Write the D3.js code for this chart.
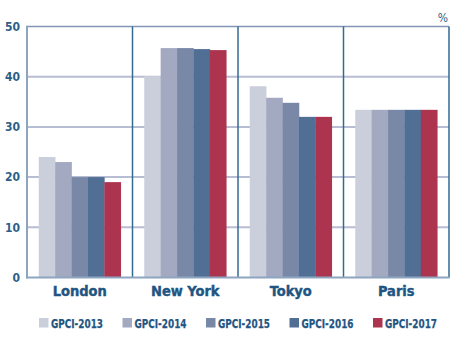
<!DOCTYPE html>
<html>
<head>
<meta charset="utf-8">
<script src="https://cdn.jsdelivr.net/npm/d3@7"></script>
<style>
  html, body { margin: 0; padding: 0; background: #fff; }
  svg { display: block; }
  text { font-family: "DejaVu Sans Condensed", "DejaVu Sans", sans-serif; }
</style>
</head>
<body>
<svg id="chart" width="455" height="343"></svg>
<script>
// City share values (%) by GPCI edition
const cities = ["London", "New York", "Tokyo", "Paris"];
const series = ["GPCI-2013", "GPCI-2014", "GPCI-2015", "GPCI-2016", "GPCI-2017"];
const gpci2013 = [24.0, 40.1, 38.1, 33.4];
const gpci2014 = [23.0, 45.7, 35.8, 33.4];
const gpci2015 = [20.0, 45.7, 34.8, 33.4];
const gpci2016 = [20.0, 45.5, 32.0, 33.4];
const gpci2017 = [19.0, 45.3, 32.0, 33.4];
const yTicks = [0, 10, 20, 30, 40, 50];
const seriesValues = [gpci2013, gpci2014, gpci2015, gpci2016, gpci2017];
const colors = ["#cbcfdc", "#a3a9c1", "#7a88a8", "#516f95", "#ad344e"];

const svg = d3.select("#chart");
const plotLeft = 27, plotRight = 449, plotTop = 26.5, plotBottom = 277.5;

const x0 = d3.scaleBand().domain(cities).range([plotLeft, plotRight]).padding(0);
const bw = x0.bandwidth();
const x1 = d3.scaleBand().domain(series).range([11.75, bw - 11.75]).padding(0);
const y = d3.scaleLinear().domain([0, 50]).range([plotBottom, plotTop]);
const color = d3.scaleOrdinal().domain(series).range(colors);

// horizontal gridlines
svg.append("g").selectAll("line")
  .data(yTicks.filter(t => t > 0 && t < 50))
  .join("line")
  .attr("x1", plotLeft).attr("x2", plotRight)
  .attr("y1", d => y(d)).attr("y2", d => y(d))
  .attr("stroke", "#b7bdd3").attr("stroke-width", 2);

// top frame line
svg.append("line")
  .attr("x1", plotLeft).attr("x2", plotRight)
  .attr("y1", y(50)).attr("y2", y(50))
  .attr("stroke", "#8296b5").attr("stroke-width", 1.5);

// vertical dividers between cities and right border
svg.append("g").selectAll("line")
  .data(cities.slice(1).map(c => x0(c)).concat([plotRight]))
  .join("line")
  .attr("x1", d => d).attr("x2", d => d)
  .attr("y1", plotTop).attr("y2", plotBottom)
  .attr("stroke", "#336a92").attr("stroke-width", 1.5);

// bars
const groups = svg.append("g").selectAll("g")
  .data(cities)
  .join("g")
  .attr("transform", c => `translate(${x0(c)},0)`);

groups.selectAll("rect")
  .data((c, i) => series.map((s, j) => ({ s, v: seriesValues[j][i] })))
  .join("rect")
  .attr("x", d => x1(d.s))
  .attr("width", x1.bandwidth() + 0.3)
  .attr("y", d => y(d.v))
  .attr("height", d => y(0) - y(d.v))
  .attr("fill", d => color(d.s));

// left and bottom axis lines
svg.append("line")
  .attr("x1", plotLeft).attr("x2", plotLeft).attr("y1", plotTop - 0.75).attr("y2", plotBottom + 1)
  .attr("stroke", "#8ea5c0").attr("stroke-width", 2);
svg.append("line")
  .attr("x1", plotLeft - 1).attr("x2", plotRight + 0.75).attr("y1", plotBottom).attr("y2", plotBottom)
  .attr("stroke", "#8ea5c0").attr("stroke-width", 2);

// y axis labels
const yAxis = d3.axisLeft(y).tickValues(yTicks).tickSize(0).tickPadding(7);
const ya = svg.append("g").attr("transform", `translate(${plotLeft},0)`).call(yAxis);
ya.select(".domain").remove();
ya.selectAll("text")
  .attr("fill", "#2c5f88")
  .attr("font-size", 12)
  .attr("font-weight", "bold");

// category labels
const xAxis = d3.axisBottom(x0).tickSize(0).tickPadding(8);
const xa = svg.append("g").attr("transform", `translate(0,${plotBottom})`).call(xAxis);
xa.select(".domain").remove();
xa.selectAll("text")
  .attr("fill", "#1f5583")
  .attr("stroke", "#1f5583")
  .attr("stroke-width", 0.4)
  .attr("font-size", 14.5)
  .attr("font-weight", "bold");

// unit label
svg.append("text")
  .attr("x", plotRight - 1).attr("y", 21.5)
  .attr("text-anchor", "end")
  .attr("fill", "#2c5f88")
  .attr("font-size", 12)
  .text("%");

// legend
const legend = svg.append("g").selectAll("g")
  .data(series)
  .join("g")
  .attr("transform", (d, i) => `translate(${39 + i * 83.5},318)`);
legend.append("rect")
  .attr("width", 9.5).attr("height", 9.5)
  .attr("fill", d => color(d));
legend.append("text")
  .attr("x", 12).attr("y", 9.5)
  .attr("fill", "#1f5583")
  .attr("stroke", "#1f5583")
  .attr("stroke-width", 0.25)
  .attr("font-size", 13)
  .attr("font-weight", "bold")
  .attr("textLength", 52)
  .attr("lengthAdjust", "spacingAndGlyphs")
  .text(d => d);
</script>
</body>
</html>
